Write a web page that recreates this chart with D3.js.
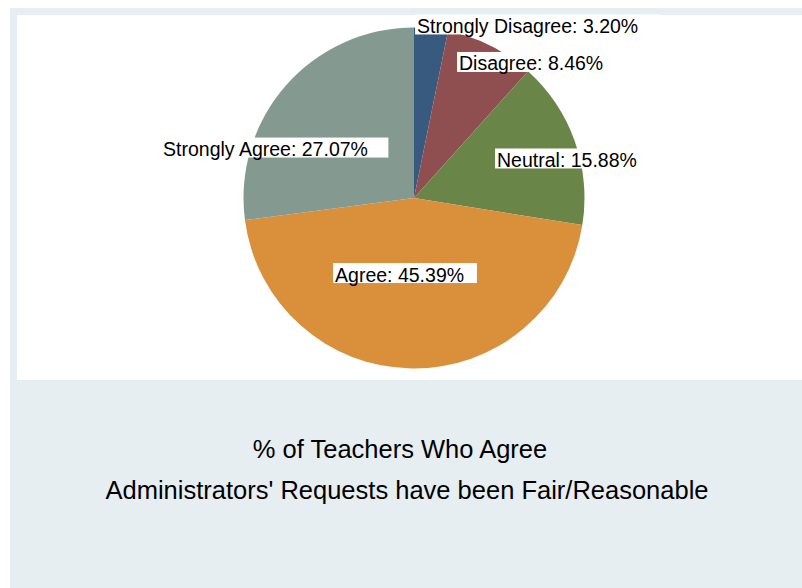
<!DOCTYPE html>
<html>
<head>
<meta charset="utf-8">
<script src="https://cdn.jsdelivr.net/npm/d3@7"></script>
<style>
  html, body { margin: 0; padding: 0; background: #ffffff; }
  svg { display: block; }
  text { font-family: "Liberation Sans", Arial, Helvetica, sans-serif; fill: #000; }
</style>
</head>
<body>
<svg id="chart" width="802" height="588"></svg>
<script>
// Survey responses, clockwise from 12 o'clock
const categories = ["Strongly Disagree", "Disagree", "Neutral", "Agree", "Strongly Agree"];
const percents = [3.20, 8.46, 15.88, 45.39, 27.07];
const sliceColors = ["#395a7f", "#8f4e50", "#6a8548", "#da8f3b", "#849a90"];

// Label anchors (text start, baseline) as multiples of the pie radius from its centre
const labelAnchors = [[0.018, -0.968], [0.264, -0.748], [0.487, -0.182], [-0.463, 0.490], [-1.472, -0.246]];

const titleLines = ["% of Teachers Who Agree", "Administrators' Requests have been Fair/Reasonable"];

const W = 802, H = 588;
const svg = d3.select("#chart");

// Outer figure band and white plot region
svg.append("rect").attr("x", 10).attr("y", 8).attr("width", W - 10).attr("height", H - 8).attr("fill", "#e7eef1");
svg.append("rect").attr("x", 17).attr("y", 15).attr("width", W - 17).attr("height", 365).attr("fill", "#ffffff");

const cx = 414, cy = 198, R = 170.5;
const g = svg.append("g").attr("transform", `translate(${cx},${cy})`);

const data = categories.map((c, i) => ({ cat: c, value: percents[i], color: sliceColors[i], anchor: labelAnchors[i] }));
const pie = d3.pie().value(d => d.value).sort(null).startAngle(0).endAngle(2 * Math.PI);
const arc = d3.arc().innerRadius(0).outerRadius(R);

g.selectAll("path.slice")
  .data(pie(data))
  .join("path")
  .attr("class", "slice")
  .attr("d", arc)
  .attr("fill", d => d.data.color);

// Percent labels on white boxes
const labels = g.selectAll("g.lbl")
  .data(pie(data))
  .join("g")
  .attr("class", "lbl")
  .attr("transform", d => `translate(${d.data.anchor[0] * R},${d.data.anchor[1] * R})`);

labels.append("rect").attr("fill", "#ffffff");
labels.append("text")
  .attr("x", 0).attr("y", 0)
  .style("font-size", "19.5px")
  .text(d => `${d.data.cat}: ${d3.format(".2f")(d.data.value)}%`);

labels.each(function () {
  const grp = d3.select(this);
  const w = grp.select("text").node().getComputedTextLength();
  grp.select("rect")
    .attr("x", -2).attr("y", -18.5)
    .attr("width", w * 1.1 + 2).attr("height", 20);
});

// Caption below the plot region
const titleX = [400, 407];
svg.append("g").selectAll("text")
  .data(titleLines)
  .join("text")
  .attr("x", (d, i) => titleX[i])
  .attr("y", (d, i) => 458 + i * 41)
  .attr("text-anchor", "middle")
  .style("font-size", "25.5px")
  .text(d => d);
</script>
</body>
</html>
